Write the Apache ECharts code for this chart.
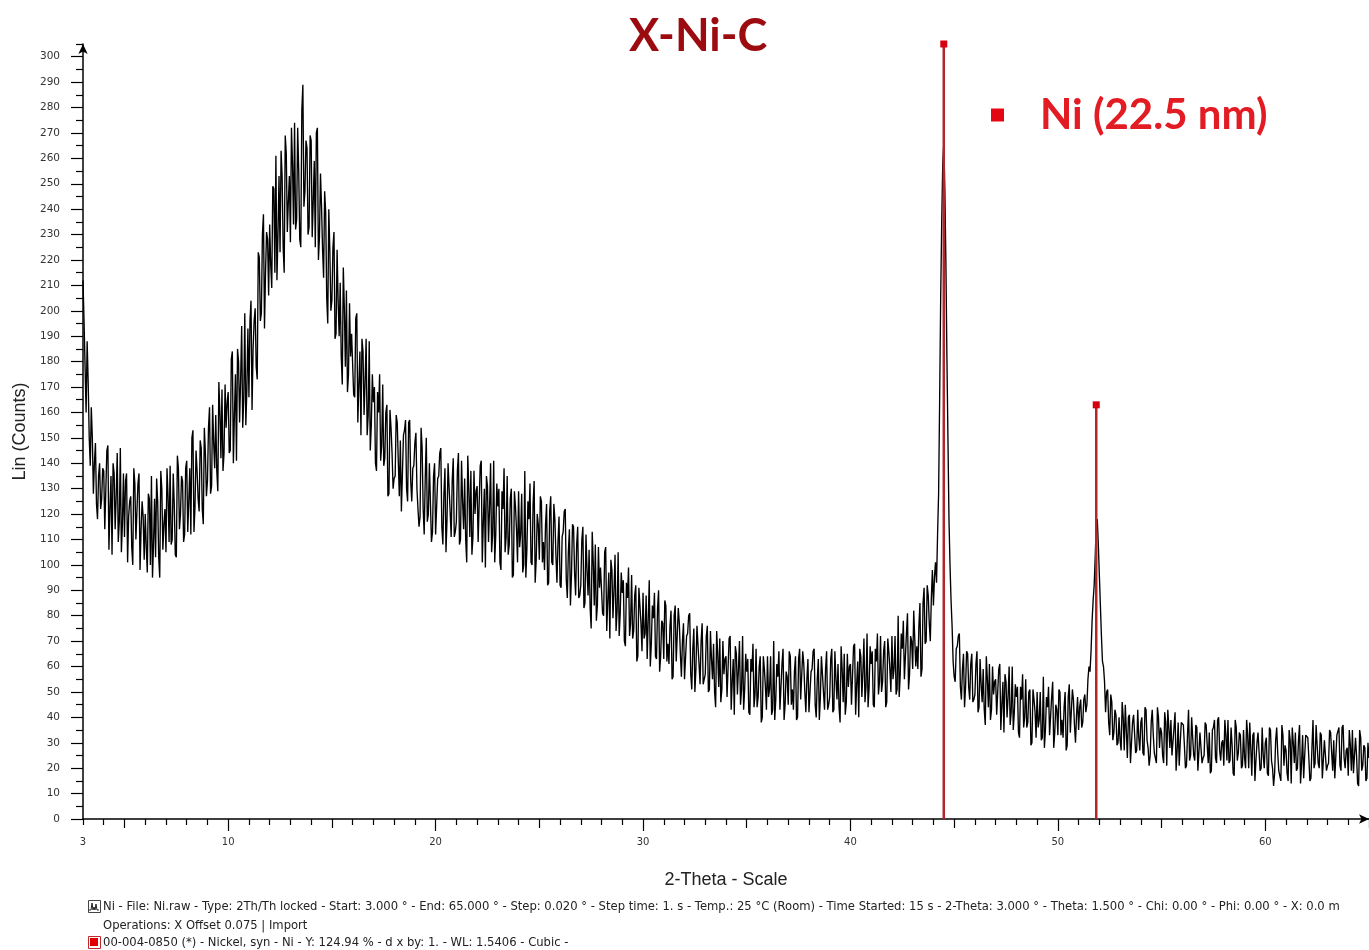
<!DOCTYPE html>
<html>
<head>
<meta charset="utf-8">
<title>X-Ni-C</title>
<script src="https://cdn.jsdelivr.net/npm/echarts@6/dist/echarts.min.js"></script>
<style>
  html, body { margin: 0; padding: 0; background: #fff; }
  #chart { width: 1369px; height: 950px; }
</style>
</head>
<body>
<div id="chart"></div>
<script>
// Scan grid: 2-theta from 3.00 to 65.00 degrees in 0.05 degree steps.
// countsOnTenths holds the readings at 3.0, 3.1, 3.2 ... 65.0,
// countsBetween holds the readings at 3.05, 3.15 ... 64.95.
const scanStart = 3.0;
const scanStep = 0.1;
const countsOnTenths = [
  212, 178, 188, 150, 162, 128, 148, 118, 140, 126,
  137, 114, 147, 122, 104, 136, 127, 109, 146, 116,
  111, 136, 119, 127, 100, 132, 110, 136, 114, 119,
  120, 97, 126, 135, 108, 103, 125, 95, 130, 116,
  105, 127, 139, 110, 124, 103, 138, 120, 133, 112,
  141, 125, 112, 153, 123, 137, 121, 146, 116, 144,
  133, 162, 131, 148, 159, 129, 160, 169, 144, 154,
  168, 145, 184, 159, 141, 180, 173, 154, 199, 169,
  166, 204, 185, 201, 173, 221, 199, 238, 215, 228,
  234, 209, 248, 261, 230, 223, 253, 215, 262, 243,
  227, 258, 274, 236, 255, 225, 289, 247, 264, 233,
  267, 243, 225, 272, 229, 241, 213, 239, 195, 224,
  204, 231, 191, 204, 211, 171, 201, 208, 175, 182,
  191, 166, 199, 171, 151, 184, 172, 151, 188, 155,
  164, 140, 168, 175, 147, 139, 160, 127, 161, 144,
  134, 159, 141, 149, 121, 153, 130, 156, 133, 138,
  148, 130, 115, 154, 122, 134, 117, 140, 109, 135,
  112, 134, 144, 115, 128, 105, 140, 121, 133, 111,
  117, 144, 110, 125, 134, 101, 130, 137, 111, 120,
  131, 109, 141, 117, 99, 131, 122, 105, 141, 112,
  123, 101, 129, 138, 111, 104, 126, 95, 129, 114,
  129, 112, 97, 137, 106, 118, 101, 124, 93, 120,
  102, 125, 109, 116, 92, 121, 101, 124, 104, 109,
  92, 111, 121, 94, 105, 84, 116, 97, 108, 87,
  92, 115, 85, 98, 106, 75, 101, 108, 84, 91,
  99, 80, 107, 86, 71, 98, 90, 74, 105, 81,
  89, 70, 93, 99, 77, 71, 88, 62, 91, 77,
  89, 73, 63, 94, 69, 79, 64, 83, 58, 78,
  63, 84, 69, 76, 55, 80, 62, 83, 65, 70,
  55, 72, 80, 57, 67, 50, 76, 61, 70, 53,
  57, 76, 51, 63, 69, 44, 65, 71, 51, 57,
  64, 48, 72, 54, 41, 65, 59, 45, 72, 51,
  58, 42, 63, 69, 49, 44, 60, 38, 64, 52,
  64, 51, 41, 70, 47, 56, 43, 61, 39, 58,
  45, 64, 51, 58, 39, 63, 47, 66, 50, 55,
  42, 58, 66, 45, 55, 39, 64, 50, 59, 43,
  48, 67, 43, 55, 61, 38, 59, 65, 46, 52,
  61, 45, 69, 53, 40, 64, 58, 46, 73, 52,
  61, 45, 67, 73, 54, 50, 66, 44, 71, 59,
  72, 59, 49, 80, 57, 67, 55, 73, 51, 72,
  59, 82, 68, 76, 56, 85, 69, 92, 77, 87,
  84, 101, 112, 165, 235, 266, 220, 150, 100, 76,
  56, 67, 72, 52, 59, 44, 66, 52, 61, 46,
  49, 66, 44, 53, 59, 37, 55, 61, 43, 49,
  55, 41, 61, 45, 34, 54, 48, 37, 60, 42,
  48, 34, 52, 57, 40, 36, 50, 29, 51, 42,
  50, 39, 31, 56, 35, 44, 33, 48, 28, 45,
  33, 50, 39, 44, 27, 48, 34, 51, 37, 41,
  35, 47, 38, 49, 45, 60, 66, 86, 103, 118,
  96, 72, 60, 42, 51, 33, 46, 34, 41, 30,
  31, 46, 27, 35, 40, 22, 38, 41, 27, 32,
  38, 26, 44, 31, 21, 38, 33, 24, 44, 28,
  34, 22, 38, 43, 28, 25, 36, 19, 38, 30,
  38, 29, 21, 43, 25, 32, 23, 36, 19, 34,
  24, 38, 29, 34, 19, 36, 24, 39, 27, 30,
  21, 33, 39, 23, 29, 17, 36, 26, 33, 21,
  24, 39, 20, 28, 33, 15, 30, 34, 20, 25,
  30, 18, 36, 23, 13, 31, 26, 17, 37, 21,
  27, 15, 31, 36, 22, 19, 31, 14, 33, 25,
  33, 24, 16, 39, 22, 29, 20, 33, 16, 31,
  21, 35, 26, 31, 16, 33, 21, 36, 24, 27,
  17, 29, 35, 18, 25, 13, 32, 21, 28, 16,
  24
];
const countsBetween = [
  196, 160, 172, 139, 150, 140, 124, 135, 122, 138,
  114, 145, 106, 135, 140, 114, 144, 117, 105, 136,
  133, 101, 125, 107, 138, 110, 132, 98, 125, 102,
  107, 128, 100, 95, 126, 134, 103, 137, 106, 122,
  138, 109, 108, 136, 104, 143, 114, 135, 109, 138,
  113, 138, 150, 113, 145, 126, 149, 122, 154, 127,
  154, 128, 163, 138, 137, 172, 142, 137, 171, 164,
  144, 181, 140, 175, 185, 156, 194, 165, 155, 193,
  196, 161, 196, 178, 223, 196, 230, 193, 231, 206,
  218, 249, 215, 212, 253, 263, 225, 269, 231, 253,
  272, 234, 232, 272, 228, 279, 241, 267, 230, 269,
  229, 259, 270, 220, 254, 224, 247, 205, 240, 200,
  225, 189, 224, 190, 182, 217, 178, 168, 203, 191,
  167, 197, 156, 184, 189, 159, 189, 159, 145, 175,
  170, 137, 160, 141, 171, 142, 163, 128, 154, 130,
  135, 156, 127, 121, 151, 157, 125, 157, 125, 139,
  152, 122, 119, 146, 112, 150, 120, 140, 113, 140,
  112, 135, 146, 108, 138, 118, 140, 111, 142, 113,
  137, 108, 141, 114, 110, 143, 111, 104, 137, 129,
  109, 139, 101, 130, 135, 109, 140, 112, 101, 132,
  130, 98, 122, 105, 135, 108, 130, 96, 123, 101,
  107, 128, 100, 95, 125, 132, 100, 133, 102, 116,
  127, 101, 98, 124, 93, 127, 100, 118, 93, 119,
  91, 113, 122, 87, 114, 96, 115, 88, 115, 88,
  110, 83, 112, 88, 83, 113, 84, 78, 107, 99,
  81, 105, 74, 97, 102, 79, 104, 82, 72, 97,
  94, 68, 87, 72, 96, 74, 92, 64, 84, 66,
  71, 88, 63, 60, 84, 89, 63, 90, 64, 77,
  86, 62, 61, 82, 56, 84, 62, 77, 56, 77,
  55, 73, 81, 51, 75, 59, 76, 53, 77, 53,
  72, 50, 74, 55, 50, 74, 52, 46, 70, 63,
  48, 71, 43, 63, 68, 49, 70, 51, 43, 65,
  63, 41, 58, 44, 67, 48, 64, 40, 59, 43,
  48, 64, 43, 39, 61, 66, 43, 67, 45, 56,
  66, 45, 43, 64, 40, 67, 47, 61, 42, 63,
  42, 59, 67, 40, 63, 48, 64, 43, 66, 45,
  63, 42, 66, 47, 44, 68, 46, 41, 65, 60,
  45, 68, 41, 62, 67, 48, 71, 52, 44, 68,
  66, 44, 62, 49, 72, 54, 70, 46, 66, 50,
  55, 72, 51, 48, 73, 78, 55, 81, 57, 70,
  82, 60, 59, 85, 59, 91, 70, 88, 70, 98,
  95, 93, 128, 205, 258, 248, 182, 118, 86, 62,
  54, 68, 73, 47, 65, 52, 65, 47, 65, 47,
  61, 42, 63, 46, 43, 64, 44, 39, 60, 54,
  41, 59, 35, 54, 57, 40, 60, 42, 35, 53,
  52, 32, 47, 36, 55, 38, 51, 30, 47, 32,
  36, 50, 32, 28, 48, 52, 33, 54, 34, 43,
  51, 33, 32, 50, 29, 53, 34, 47, 30, 48,
  44, 36, 47, 42, 55, 58, 78, 92, 116, 108,
  84, 62, 54, 50, 38, 49, 31, 43, 29, 40,
  27, 40, 45, 24, 41, 30, 41, 26, 43, 27,
  40, 25, 43, 28, 25, 43, 26, 22, 40, 36,
  25, 42, 21, 36, 39, 25, 42, 27, 21, 38,
  37, 20, 33, 23, 40, 25, 37, 19, 34, 22,
  25, 37, 22, 18, 35, 39, 22, 40, 23, 31,
  39, 23, 22, 36, 18, 39, 23, 34, 20, 35,
  20, 33, 38, 17, 34, 23, 34, 19, 36, 20,
  32, 17, 35, 20, 18, 36, 19, 15, 33, 29,
  18, 35, 14, 30, 34, 20, 37, 22, 16, 33,
  32, 15, 28, 20, 37, 22, 34, 16, 31, 19,
  22, 34, 19, 16, 33, 36, 19, 37, 20, 28,
  35, 19, 18, 32, 14, 35, 19, 29, 15, 30
];

// Ni reference pattern 00-004-0850: stick positions and heights
const niName = 'Ni (22.5 nm)';
const niAngles = [44.5, 51.85];
const niHeights = [305, 163];

// Axis ticks and labels
const xLabelValues = [3, 10, 20, 30, 40, 50, 60];
const xMajorTicks = [10, 20, 30, 40, 50, 60];
const xMidTicks = [5, 15, 25, 35, 45, 55, 65];
const yLabelValues = [0, 10, 20, 30, 40, 50, 60, 70, 80, 90, 100, 110, 120, 130, 140, 150,
  160, 170, 180, 190, 200, 210, 220, 230, 240, 250, 260, 270, 280, 290, 300];
const yMinorTicks = [5, 15, 25, 35, 45, 55, 65, 75, 85, 95, 105, 115, 125, 135, 145, 155,
  165, 175, 185, 195, 205, 215, 225, 235, 245, 255, 265, 275, 285, 295, 305];

// Footer lines
const scanInfo = 'Ni - File: Ni.raw - Type: 2Th/Th locked - Start: 3.000 \u00b0 - End: 65.000 \u00b0 - Step: 0.020 \u00b0 - Step time: 1. s - Temp.: 25 \u00b0C (Room) - Time Started: 15 s - 2-Theta: 3.000 \u00b0 - Theta: 1.500 \u00b0 - Chi: 0.00 \u00b0 - Phi: 0.00 \u00b0 - X: 0.0 m';
const opsInfo = 'Operations: X Offset 0.075 | Import';
const refInfo = '00-004-0850 (*) - Nickel, syn - Ni - Y: 124.94 % - d x by: 1. - WL: 1.5406 - Cubic -';

const X_MIN = 3, X_MAX = 65, Y_MIN = 0, Y_MAX = 305;
const FONT = '"Liberation Sans", Arial, sans-serif';
const SMALL_FONT = '"DejaVu Sans", Verdana, sans-serif';

const xMinorTicks = [];
for (let v = X_MIN; v <= X_MAX; v++) {
  if (v % 5 !== 0) xMinorTicks.push(v);
}

// Interleave both reading sets into one ordered [angle, counts] list
const scanData = [];
countsOnTenths.forEach((c, i) => {
  const angle = scanStart + i * scanStep;
  scanData.push([Number(angle.toFixed(2)), c]);
  if (i < countsBetween.length) {
    scanData.push([Number((angle + scanStep / 2).toFixed(2)), countsBetween[i]]);
  }
});
const niData = niAngles.map((a, i) => [a, niHeights[i]]);

function tickLayer(values, length) {
  return {
    type: 'value', gridIndex: 0, position: 'bottom', min: X_MIN, max: X_MAX,
    axisLine: { show: false, onZero: false },
    axisLabel: { show: false },
    splitLine: { show: false },
    axisTick: { show: true, customValues: values, length: length, lineStyle: { color: '#000', width: 1.2 } }
  };
}

const chart = echarts.init(document.getElementById('chart'));

chart.setOption({
  animation: false,
  backgroundColor: '#fff',
  title: {
    text: 'X-Ni-C',
    left: 624,
    top: 9,
    textStyle: { fontFamily: 'Lato', fontWeight: 'bold', fontSize: 45, color: '#9b0b0f' }
  },
  legend: {
    left: 991,
    top: 94,
    padding: 0,
    selectedMode: false,
    itemWidth: 13,
    itemHeight: 13,
    data: [{ name: niName, icon: 'rect', itemStyle: { color: '#e30613' } }],
    textStyle: {
      fontFamily: 'Lato', fontWeight: 'bold', fontSize: 42, color: '#e31b23',
      padding: [0, 0, 0, 31]
    }
  },
  grid: { left: 83, top: 44, width: 1288, height: 775, containLabel: false },
  xAxis: [
    {
      type: 'value', gridIndex: 0, position: 'bottom', min: X_MIN, max: X_MAX,
      name: '2-Theta - Scale',
      nameLocation: 'middle',
      nameGap: 52,
      nameTextStyle: { fontFamily: FONT, fontSize: 18, color: '#222' },
      axisLine: {
        show: true, onZero: false,
        lineStyle: { color: '#000', width: 1.5 },
        symbol: ['none', 'arrow'], symbolSize: [7, 10]
      },
      axisTick: { show: true, customValues: xMajorTicks, length: 12, lineStyle: { color: '#000', width: 1.2 } },
      axisLabel: { show: true, customValues: xLabelValues, margin: 18, fontFamily: SMALL_FONT, fontSize: 10, color: '#333' },
      splitLine: { show: false }
    },
    tickLayer(xMidTicks, 9),
    tickLayer(xMinorTicks, 6)
  ],
  yAxis: [
    {
      type: 'value', gridIndex: 0, position: 'left', min: Y_MIN, max: Y_MAX,
      name: 'Lin (Counts)',
      nameLocation: 'middle',
      nameGap: 52,
      nameTextStyle: { fontFamily: FONT, fontSize: 18, color: '#222' },
      axisLine: {
        show: true, onZero: false,
        lineStyle: { color: '#000', width: 1.5 },
        symbol: ['none', 'arrow'], symbolSize: [7, 10]
      },
      axisTick: { show: true, customValues: yLabelValues, length: 12, lineStyle: { color: '#000', width: 1.2 } },
      axisLabel: { show: true, customValues: yLabelValues, margin: 23, fontFamily: SMALL_FONT, fontSize: 10.5, color: '#333' },
      splitLine: { show: false }
    },
    {
      type: 'value', gridIndex: 0, position: 'left', min: Y_MIN, max: Y_MAX,
      axisLine: { show: false, onZero: false },
      axisLabel: { show: false },
      splitLine: { show: false },
      axisTick: { show: true, customValues: yMinorTicks, length: 7, lineStyle: { color: '#000', width: 1.2 } }
    }
  ],
  series: [
    {
      name: 'Ni',
      type: 'line',
      xAxisIndex: 0,
      yAxisIndex: 0,
      data: scanData,
      showSymbol: false,
      symbol: 'none',
      sampling: null,
      lineStyle: { color: '#000', width: 1.35 },
      z: 2
    },
    {
      name: niName,
      type: 'custom',
      xAxisIndex: 0,
      yAxisIndex: 0,
      clip: false,
      z: 5,
      data: niData,
      renderItem: function (params, api) {
        const top = api.coord([api.value(0), api.value(1)]);
        const base = api.coord([api.value(0), 0]);
        return {
          type: 'group',
          children: [
            {
              type: 'line',
              shape: { x1: base[0], y1: base[1], x2: top[0], y2: top[1] },
              style: { stroke: '#b3242b', lineWidth: 2.5 }
            },
            {
              type: 'rect',
              shape: { x: top[0] - 3.5, y: top[1] - 3.5, width: 7, height: 7 },
              style: { fill: '#d4000f' }
            }
          ]
        };
      }
    }
  ],
  graphic: [
    {
      type: 'rect', left: 88, top: 900,
      shape: { width: 12, height: 12 },
      style: { fill: '#fff', stroke: '#444', lineWidth: 1 }
    },
    {
      type: 'polyline',
      shape: { points: [[89, 910], [91, 910], [92, 903], [93, 910], [94, 907], [95, 910], [96, 904], [97, 910], [99, 910]] },
      style: { stroke: '#222', lineWidth: 1, fill: null }
    },
    {
      type: 'text', left: 103, top: 901,
      style: { text: scanInfo, fontFamily: SMALL_FONT, fontSize: 11.6, fill: '#222' }
    },
    {
      type: 'text', left: 103, top: 920,
      style: { text: opsInfo, fontFamily: SMALL_FONT, fontSize: 11.6, fill: '#222' }
    },
    {
      type: 'rect', left: 88, top: 936,
      shape: { width: 12, height: 12 },
      style: { fill: '#fff', stroke: '#c0282a', lineWidth: 1 }
    },
    {
      type: 'rect', left: 90, top: 938,
      shape: { width: 8, height: 8 },
      style: { fill: '#e00000' }
    },
    {
      type: 'text', left: 103, top: 937,
      style: { text: refInfo, fontFamily: SMALL_FONT, fontSize: 11.6, fill: '#222' }
    }
  ]
});
</script>
</body>
</html>
